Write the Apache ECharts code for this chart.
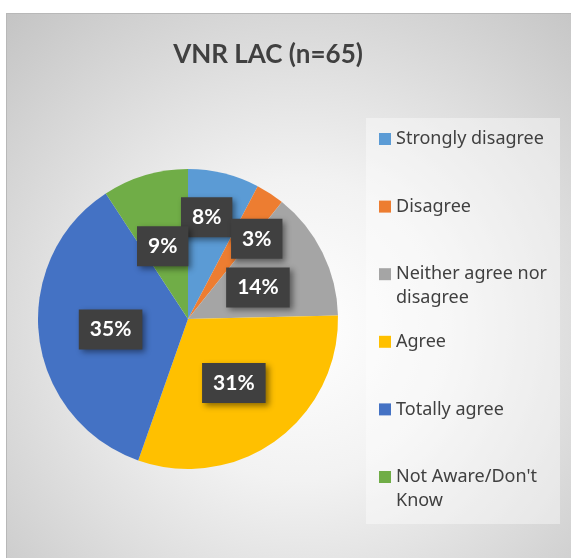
<!DOCTYPE html>
<html>
<head>
<meta charset="utf-8">
<script src="https://cdn.jsdelivr.net/npm/echarts@6/dist/echarts.min.js"></script>
<style>
  html, body { margin: 0; padding: 0; background: #ffffff; }
  #container {
    position: absolute; left: 6px; top: 13px; width: 565px; height: 545px;
    box-sizing: border-box;
    border-left: 1px solid #b8b8b8; border-top: 1px solid #b8b8b8;
    background: radial-gradient(circle farthest-corner at 52% 58%, #ffffff 0%, #f2f2f2 35%, #c4c4c4 100%);
  }
</style>
</head>
<body>
<div id="container"></div>
<script type="text/javascript">
// data
var categories = ['Strongly disagree', 'Disagree', 'Neither agree nor disagree', 'Agree', 'Totally agree', "Not Aware/Don't Know"];
var legendLabels = ['Strongly disagree', 'Disagree', 'Neither agree nor\ndisagree', 'Agree', 'Totally agree', "Not Aware/Don't\nKnow"];
var counts = [5, 2, 9, 20, 23, 6];   // n = 65
var colors = ['#5b9bd5', '#ed7d31', '#a5a5a5', '#ffc000', '#4472c4', '#70ad47'];

var dom = document.getElementById('container');
var myChart = echarts.init(dom);

// Excel pushed the two small labels out a bit
var labelOffsets = [[0, -26], [26, -15], [0, 3], [0, 1], [0, 1], [-3, 2]];

var pieData = categories.map(function (name, i) {
    return {
        name: name,
        value: counts[i],
        itemStyle: { color: colors[i] },
        label: { offset: labelOffsets[i] }
    };
});

// one legend per entry so the first text line lines up with the square
var legends = categories.map(function (name, i) {
    var twoLines = legendLabels[i].indexOf('\n') >= 0;
    var centerY = 125 + i * 67.6;
    return {
        orient: 'vertical',
        left: 372,
        top: twoLines ? centerY - 36 : centerY - 12,
        padding: 0,
        icon: 'rect',
        itemWidth: 12,
        itemHeight: 12,
        data: [name],
        // a blank line on top keeps the square level with the first line
        formatter: function () { return twoLines ? ' \n' + legendLabels[i] : legendLabels[i]; },
        textStyle: {
            fontFamily: 'Noto Sans',
            fontSize: 18,
            color: '#404040',
            lineHeight: 24
        }
    };
});

option = {
    backgroundColor: 'transparent',
    animation: false,
    title: {
        text: 'VNR LAC (n=65)',
        left: 256,
        top: 23,
        textAlign: 'center',
        textStyle: {
            fontFamily: 'Lato',
            fontWeight: 'bold',
            fontSize: 26,
            color: '#404040'
        }
    },
    legend: legends,
    graphic: [
        {
            type: 'rect',
            left: 359,
            top: 104,
            z: -1,
            shape: { width: 194, height: 406 },
            style: { fill: 'rgba(255,255,255,0.4)' }
        }
    ],
    series: [
        {
            type: 'pie',
            center: [181, 305],
            radius: [0, 150],
            startAngle: 90,
            clockwise: true,
            avoidLabelOverlap: false,
            data: pieData,
            itemStyle: { borderWidth: 0 },
            labelLayout: { hideOverlap: false },
            label: {
                show: true,
                position: 'inside',
                formatter: function (p) {
                    return Math.round(p.percent) + '%';
                },
                fontFamily: 'Lato',
                fontWeight: 'bold',
                fontSize: 21,
                color: '#ffffff',
                lineHeight: 20,
                backgroundColor: '#404040',
                padding: [10, 11],
                shadowColor: 'rgba(0,0,0,0.45)',
                shadowBlur: 6,
                shadowOffsetX: 3,
                shadowOffsetY: 3
            },
            labelLine: { show: false },
            emphasis: { scale: false }
        }
    ]
};

if (option && typeof option === 'object') {
    myChart.setOption(option, true);
}
</script>
</body>
</html>
